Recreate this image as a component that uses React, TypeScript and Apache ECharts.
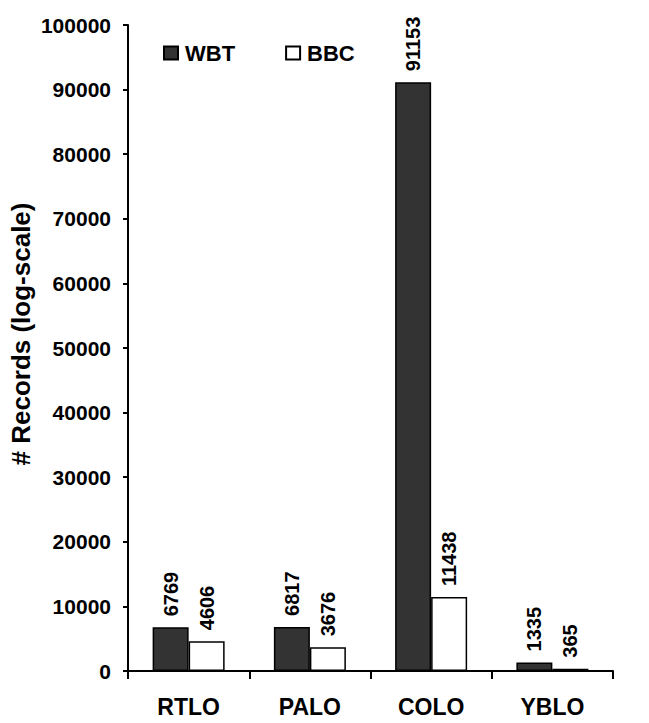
import React, { useEffect, useRef } from "react";
import * as echarts from "echarts";

const categories = ["RTLO", "PALO", "COLO", "YBLO"];
const wbtValues = [6769, 6817, 91153, 1335];
const bbcValues = [4606, 3676, 11438, 365];
const seriesNames = ["WBT", "BBC"];
const yAxisTitle = "# Records (log-scale)";

const FONT = 'Arial, "Liberation Sans", sans-serif';

export default function App() {
  const ref = useRef<HTMLDivElement>(null);
  useEffect(() => {
    document.body.style.margin = "0";
    const chart = echarts.init(ref.current!, null, { renderer: "svg" });
    const labelCfg = {
      show: true,
      position: "top",
      rotate: 90,
      align: "left",
      verticalAlign: "middle",
      distance: 11,
      color: "#000",
      fontFamily: FONT,
      fontWeight: "bold",
      fontSize: 20,
    };
    chart.setOption({
      animation: false,
      backgroundColor: "#fff",
      grid: { left: 128, right: 36, top: 25, bottom: 52, containLabel: false },
      legend: {
        left: 158,
        top: 37,
        itemWidth: 14,
        itemHeight: 13,
        itemGap: 50,
        textStyle: {
          fontFamily: FONT,
          fontWeight: "bold",
          fontSize: 22,
          color: "#000",
          padding: [0, 0, 0, 2],
        },
        data: seriesNames.map((n) => ({ name: n, icon: "rect" })),
      },
      graphic: [
        {
          type: "text",
          x: 21,
          y: 334,
          rotation: Math.PI / 2,
          style: {
            text: yAxisTitle,
            fill: "#000",
            font: `bold 26px ${FONT}`,
            textAlign: "center",
            textVerticalAlign: "middle",
          },
        },
      ],
      xAxis: {
        type: "category",
        data: categories,
        axisLine: { lineStyle: { color: "#000", width: 2 } },
        axisTick: { show: true, length: 8, lineStyle: { color: "#000", width: 2 } },
        axisLabel: {
          margin: 24,
          color: "#000",
          fontFamily: FONT,
          fontWeight: "bold",
          fontSize: 23,
        },
      },
      yAxis: {
        type: "value",
        min: 0,
        max: 100000,
        interval: 10000,
        splitLine: { show: false },
        axisLine: { show: true, lineStyle: { color: "#000", width: 2 } },
        axisTick: { show: true, length: 5, lineStyle: { color: "#000", width: 2 } },
        axisLabel: {
          margin: 17,
          color: "#000",
          fontFamily: FONT,
          fontWeight: "bold",
          fontSize: 21,
          formatter: (v: number) => String(v),
        },
      },
      series: [
        {
          name: seriesNames[0],
          type: "bar",
          data: wbtValues,
          barWidth: 36,
          barGap: "0%",
          itemStyle: { color: "#333333", borderColor: "#000", borderWidth: 1.5 },
          label: labelCfg,
        },
        {
          name: seriesNames[1],
          type: "bar",
          data: bbcValues,
          barWidth: 36,
          barGap: "0%",
          itemStyle: { color: "#ffffff", borderColor: "#000", borderWidth: 1.5 },
          label: labelCfg,
        },
      ],
    });
    return () => chart.dispose();
  }, []);
  return <div ref={ref} style={{ width: 649, height: 723 }} />;
}
